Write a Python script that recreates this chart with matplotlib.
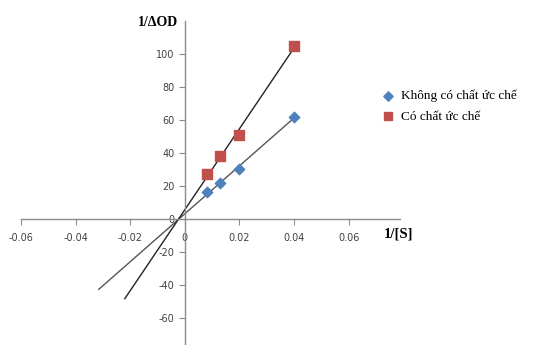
import numpy as np
import matplotlib.pyplot as plt

plt.rcParams['axes.unicode_minus'] = False

# Lineweaver-Burk data
inv_s = [0.008, 0.013, 0.02, 0.04]
no_inhib = [16, 22, 30, 62]
with_inhib = [27, 38, 51, 105]
labels = ['Không có chất ức chế', 'Có chất ức chế']
xticks = [-0.06, -0.04, -0.02, 0, 0.02, 0.04, 0.06]
yticks = [-60, -40, -20, 0, 20, 40, 60, 80, 100]

fig = plt.figure(figsize=(5.46, 3.45), dpi=100)
ax = fig.add_axes([21/546, 0.0, 379/546, 1 - 21/345])
ax.set_xlim(-0.06, 0.0788)
ax.set_ylim(-76.5, 120)

# trend lines extended back past the origin
for y, x0, col in [(no_inhib, -0.0315, '#555555'), (with_inhib, -0.022, '#222222')]:
    k, b = np.polyfit(inv_s, y, 1)
    xs = np.array([x0, 0.04])
    ax.plot(xs, k*xs + b, color=col, lw=1, zorder=2)

ax.scatter(inv_s, no_inhib, marker='D', s=28, color='#4F81BD', label=labels[0], zorder=3)
ax.scatter(inv_s, with_inhib, marker='s', s=50, color='#C0504D', label=labels[1], zorder=3)

for s in ['top', 'right']:
    ax.spines[s].set_visible(False)
ax.spines['left'].set_position(('data', 0))
ax.spines['bottom'].set_position(('data', 0))
for s in ['left', 'bottom']:
    ax.spines[s].set_color('#8c8c8c')
    ax.spines[s].set_linewidth(1)
ax.set_xticks(xticks)
ax.set_xticklabels(['-0.06', '-0.04', '-0.02', '0', '0.02', '0.04', '0.06'])
ax.set_yticks(yticks)
ax.tick_params(axis='both', colors='#8c8c8c', labelcolor='#404040', labelsize=7, length=4)
ax.tick_params(axis='x', pad=6)
ax.patch.set_alpha(0)

fig.text(178/546, 1 - 23/345, '1/ΔOD', family='Liberation Serif', weight='bold',
         fontsize=10, ha='right', va='center')
fig.text(384/546, 1 - 234/345, '1/[S]', family='Liberation Serif', weight='bold',
         fontsize=10.5, ha='left', va='center')

fig.legend(loc='upper left', bbox_to_anchor=(368/546, 1 - 78/345), frameon=False,
           prop={'family': 'Liberation Serif', 'size': 9.5}, handletextpad=0.4,
           labelspacing=0.6, markerscale=0.9, handlelength=1.2)

fig.savefig('out.png', dpi=100)
